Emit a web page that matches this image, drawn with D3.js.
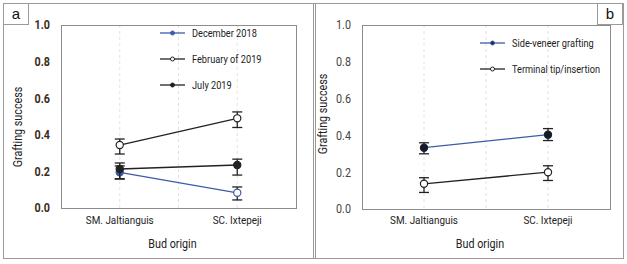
<!DOCTYPE html>
<html>
<head>
<meta charset="utf-8">
<script src="https://cdn.jsdelivr.net/npm/d3@7"></script>
<style>
  body { margin: 0; background: #fff; }
  svg { display: block; font-family: "Liberation Sans Narrow", "Roboto", sans-serif; }
</style>
</head>
<body>
<svg width="627" height="264"></svg>
<script>
// data
var origins = ['SM. Jaltianguis', 'SC. Ixtepeji'];
var yTicks = [0, 0.2, 0.4, 0.6, 0.8, 1.0];

var dec2018 = [0.195, 0.083];
var dec2018Lo = [0.16, 0.044];
var dec2018Hi = [0.23, 0.115];
var feb2019 = [0.344, 0.49];
var feb2019Lo = [0.295, 0.44];
var feb2019Hi = [0.377, 0.525];
var jul2019 = [0.213, 0.235];
var jul2019Lo = [0.158, 0.18];
var jul2019Hi = [0.246, 0.267];

var sideVeneer = [0.333, 0.404];
var sideVeneerLo = [0.30, 0.372];
var sideVeneerHi = [0.36, 0.437];
var terminal = [0.137, 0.2];
var terminalLo = [0.09, 0.155];
var terminalHi = [0.17, 0.235];

var blue = '#3c5ca8';
var dark = '#222';

var svg = d3.select('svg');

function panel(opt) {
    var g = svg.append('g');

    // outer border
    g.append('rect').attr('x', opt.box[0] + 0.5).attr('y', 3.5)
        .attr('width', opt.box[1] - opt.box[0]).attr('height', 255)
        .attr('fill', 'none').attr('stroke', '#9a9a9a');

    var x = d3.scaleLinear().domain([-0.5, 1.5]).range([opt.left, opt.right]);
    var y = d3.scaleLinear().domain([0, 1]).range([opt.bottom, opt.top]);

    // dashed vertical grid
    [0, 0.5, 1].forEach(function (v) {
        g.append('line').attr('x1', x(v)).attr('x2', x(v))
            .attr('y1', y(1)).attr('y2', y(0))
            .attr('stroke', '#e2e2e2').attr('stroke-dasharray', '3,3');
    });

    g.append('rect').attr('x', opt.left + 0.5).attr('y', opt.top + 0.5)
        .attr('width', opt.right - opt.left).attr('height', opt.bottom - opt.top)
        .attr('fill', 'none').attr('stroke', '#8c8c8c');

    // y ticks
    g.selectAll('.yt').data(yTicks).enter().append('text').attr('class', 'c')
        .attr('x', opt.left - 11).attr('y', function (d) { return y(d); })
        .attr('dy', '0.35em').attr('text-anchor', 'end')
        .attr('font-size', 12.5).attr('fill', opt.tickColor)
        .attr('font-weight', opt.tickWeight)
        .text(function (d) { return d3.format('.1f')(d); });

    // x ticks
    g.selectAll('.xt').data(origins).enter().append('text').attr('class', 'c')
        .attr('x', function (d, i) { return x(i); }).attr('y', 220)
        .attr('dy', '0.35em').attr('text-anchor', 'middle')
        .attr('font-size', 11.5).attr('fill', '#222')
        .text(function (d) { return d; });

    g.append('text').attr('class', 'c').attr('x', (opt.left + opt.right) / 2 - 6).attr('y', 244)
        .attr('dy', '0.35em').attr('text-anchor', 'middle')
        .attr('font-size', 12.5).attr('fill', '#222').text('Bud origin');

    g.append('text').attr('class', 'c')
        .attr('transform', 'translate(' + opt.ytitleX + ',' + opt.ytitleY + ') rotate(-90)')
        .attr('text-anchor', 'middle').attr('dy', '0.35em')
        .attr('font-size', 12.5).attr('fill', '#222').text('Grafting success');

    // series
    var line = d3.line().x(function (d, i) { return x(i); }).y(function (d) { return y(d); });
    opt.series.forEach(function (s) {
        g.append('path').attr('d', line(s.values)).attr('fill', 'none')
            .attr('stroke', s.color).attr('stroke-width', 1.3);
        s.values.forEach(function (v, i) {
            var cx = x(i);
            g.append('line').attr('x1', cx).attr('x2', cx)
                .attr('y1', y(s.lo[i])).attr('y2', y(s.hi[i]))
                .attr('stroke', dark).attr('stroke-width', 1.3);
            [s.lo[i], s.hi[i]].forEach(function (e) {
                g.append('line').attr('x1', cx - 5).attr('x2', cx + 5)
                    .attr('y1', y(e)).attr('y2', y(e))
                    .attr('stroke', dark).attr('stroke-width', 1.3);
            });
        });
        s.values.forEach(function (v, i) {
            g.append('circle').attr('cx', x(i)).attr('cy', y(v)).attr('r', 3.6)
                .attr('fill', s.fill[i]).attr('stroke', s.stroke[i]).attr('stroke-width', 1.2);
        });
    });

    // legend
    opt.series.forEach(function (s, i) {
        var ly = opt.legY + i * opt.legStep;
        g.append('line').attr('x1', opt.legX).attr('x2', opt.legX + 25)
            .attr('y1', ly).attr('y2', ly).attr('stroke', s.color).attr('stroke-width', 1.3);
        g.append('circle').attr('cx', opt.legX + 12.5).attr('cy', ly).attr('r', 2)
            .attr('fill', s.legFill).attr('stroke', s.color).attr('stroke-width', 1);
        g.append('text').attr('class', 'c leg').attr('x', opt.legX + 32).attr('y', ly).attr('dy', '0.35em')
            .attr('font-size', 11.5).attr('fill', '#222').text(s.name);
    });

    // panel letter box
    g.append('rect').attr('x', opt.letterX + 0.5).attr('y', 3.5).attr('width', 25).attr('height', 21)
        .attr('fill', '#fff').attr('stroke', '#9a9a9a');
    g.append('text').attr('x', opt.letterX + 13).attr('y', 14).attr('dy', '0.35em')
        .attr('text-anchor', 'middle').attr('font-size', 15).attr('fill', '#111')
        .attr('font-family', 'Liberation Sans, Arial, sans-serif').text(opt.letter);
}

panel({
    box: [3, 315], left: 61, right: 296, top: 25, bottom: 208,
    tickColor: '#3a2c20', tickWeight: 'bold', ytitleX: 18, ytitleY: 127,
    legX: 160, legY: 33, legStep: 26, letterX: 3, letter: 'a',
    series: [
        { name: 'December 2018', values: dec2018, lo: dec2018Lo, hi: dec2018Hi, color: blue,
          fill: [blue, '#fff'], stroke: [blue, blue], legFill: blue },
        { name: 'February of 2019', values: feb2019, lo: feb2019Lo, hi: feb2019Hi, color: dark,
          fill: ['#fff', '#fff'], stroke: [dark, dark], legFill: '#fff' },
        { name: 'July 2019', values: jul2019, lo: jul2019Lo, hi: jul2019Hi, color: dark,
          fill: [dark, dark], stroke: [dark, dark], legFill: dark }
    ]
});

panel({
    box: [313, 623], left: 362, right: 610, top: 25, bottom: 209,
    tickColor: '#444', tickWeight: 'normal', ytitleX: 323, ytitleY: 114,
    legX: 480, legY: 43, legStep: 26, letterX: 597, letter: 'b',
    series: [
        { name: 'Side-veneer grafting', values: sideVeneer, lo: sideVeneerLo, hi: sideVeneerHi, color: blue,
          fill: ['#111a33', '#111a33'], stroke: [dark, dark], legFill: '#1a2a5a' },
        { name: 'Terminal tip/insertion', values: terminal, lo: terminalLo, hi: terminalHi, color: dark,
          fill: ['#fff', '#fff'], stroke: [dark, dark], legFill: '#fff' }
    ]
});

// narrow the text, the original uses a condensed face
svg.selectAll('text.c').each(function () {
    var t = d3.select(this);
    var k = t.classed('leg') ? 0.8 : 0.86;
    t.attr('textLength', this.getComputedTextLength() * k).attr('lengthAdjust', 'spacingAndGlyphs');
});
</script>
</body>
</html>
